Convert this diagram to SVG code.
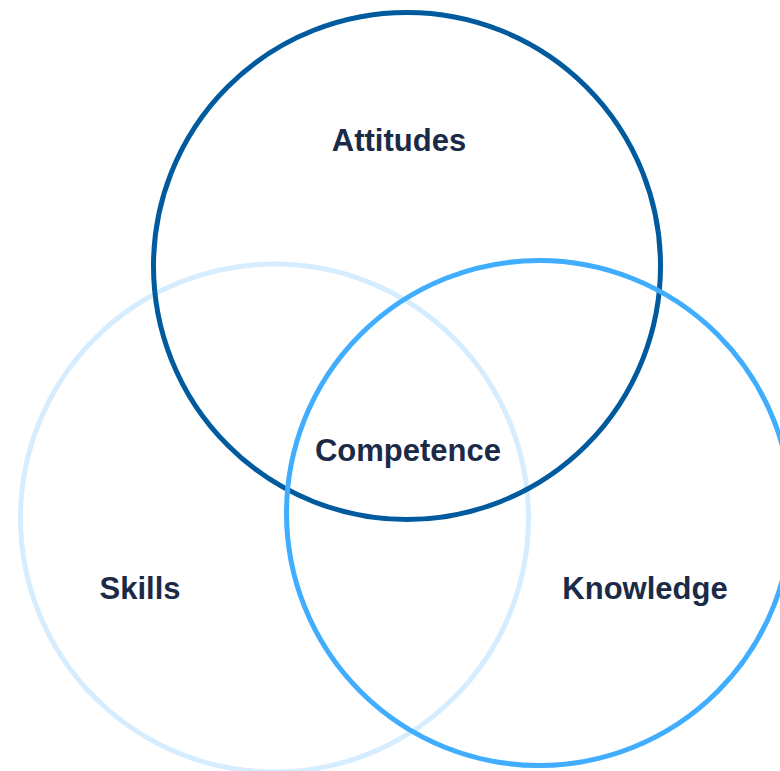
<svg xmlns="http://www.w3.org/2000/svg" width="780" height="771" viewBox="0 0 780 771">
<style>
.ring{fill:none;stroke-width:5}
.lbl{font-family:"Liberation Sans",Arial,sans-serif;font-weight:bold;font-size:31px;fill:#1b2b47;text-anchor:middle}
</style>
<rect width="780" height="771" fill="#ffffff"/>
<g id="skills">
<circle class="ring" cx="274.5" cy="518" r="254" stroke="#d6edff"/>
<text class="lbl" x="140" y="599">Skills</text>
</g>
<g id="attitudes">
<circle class="ring" cx="407" cy="266" r="253.5" stroke="#005a9e"/>
<text class="lbl" x="399" y="151">Attitudes</text>
</g>
<g id="knowledge">
<circle class="ring" cx="539" cy="513" r="252.5" stroke="#40adff"/>
<text class="lbl" x="645" y="599">Knowledge</text>
</g>
<g id="competence">
<text class="lbl" x="408" y="461">Competence</text>
</g>
<g id="connectors"/>
</svg>
